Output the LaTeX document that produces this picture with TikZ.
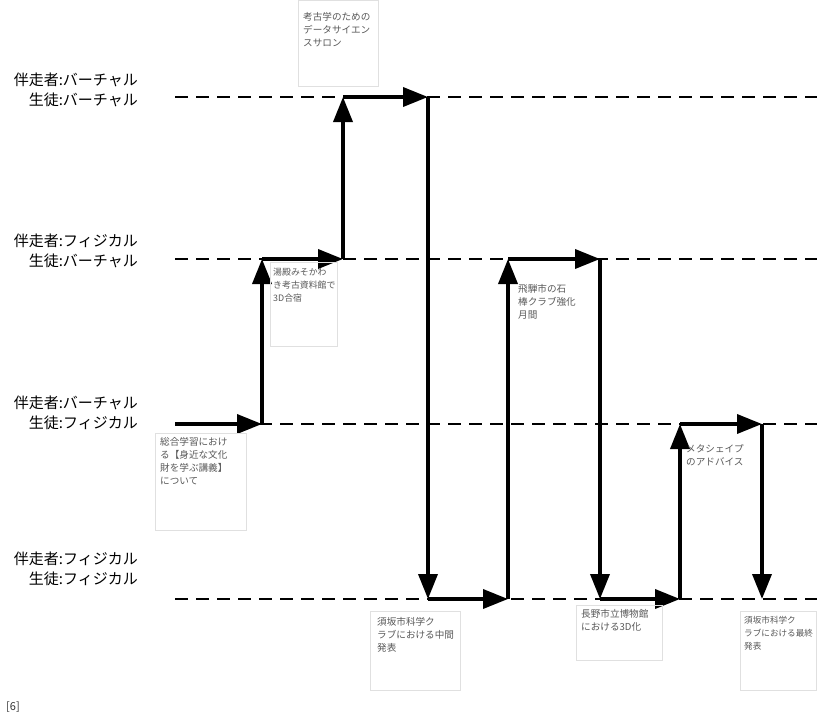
\documentclass[tikz,border=0pt]{standalone}
\usepackage{fontspec}
\setmainfont{Noto Sans CJK JP}
\usetikzlibrary{arrows.meta}
\tikzset{
  level/.style={line width=2.6pt, dash pattern=on 13pt off 8pt},
  flow/.style={line width=3.6pt, -{Triangle[length=25pt,width=19pt]}},
  statelabel/.style={anchor=east, align=right, font=\fontsize{15}{20.5}\selectfont, inner sep=0pt},
  notebox/.style={draw=black!12, line width=0.8pt},
  note/.style={anchor=north west, align=left, text=black!65, inner sep=0pt,
    font=\fontsize{9.6}{13}\selectfont}
}
\begin{document}
\begin{tikzpicture}[x=1pt,y=-1pt]
\useasboundingbox (0,0) rectangle (817,718);
\fill[white] (0,0) rectangle (817,718);

% state levels
\foreach \n/\y in {vv/97, fv/259, vf/424, ff/599}{
  \coordinate (\n-l) at (175,\y);
  \coordinate (\n-r) at (817,\y);
  \draw[level] (\n-l) -- (\n-r);
}
\node[statelabel] (lab-vv) at (138,90) {伴走者:バーチャル\\生徒:バーチャル};
\node[statelabel] (lab-fv) at (138,251) {伴走者:フィジカル\\生徒:バーチャル};
\node[statelabel] (lab-vf) at (138,413) {伴走者:バーチャル\\生徒:フィジカル};
\node[statelabel] (lab-ff) at (138,569) {伴走者:フィジカル\\生徒:フィジカル};

% turning points of the path
\coordinate (p0) at (175,424);
\coordinate (p1) at (262,424);
\coordinate (p2) at (262,259);
\coordinate (p3) at (343,259);
\coordinate (p4) at (343,97);
\coordinate (p5) at (428,97);
\coordinate (p6) at (428,599);
\coordinate (p7) at (508,599);
\coordinate (p8) at (508,259);
\coordinate (p9) at (600,259);
\coordinate (p10) at (600,599);
\coordinate (p11) at (680,599);
\coordinate (p12) at (680,424);
\coordinate (p13) at (762,424);
\coordinate (p14) at (762,599);

\draw[flow] (p0) -- (p1);
\draw[flow] (p1) -- (p2);
\draw[flow] (p2) -- (p3);
\draw[flow] (p3) -- (p4);
\draw[flow] (p4) -- (p5);
\draw[flow] (p5) -- (p6);
\draw[flow] (p6) -- (p7);
\draw[flow] (p7) -- (p8);
\draw[flow] (p8) -- (p9);
\draw[flow] (p9) -- (p10);
\draw[flow] (p10) -- (p11);
\draw[flow] (p11) -- (p12);
\draw[flow] (p12) -- (p13);
\draw[flow] (p13) -- (p14);

% event notes
\draw[notebox] (298,0) rectangle (378,86);
\node[note] (n1) at (303,12) {考古学のための\\データサイエン\\スサロン};

\draw[notebox] (270,262) rectangle (337,346);
\node[note, font=\fontsize{8.9}{13}\selectfont] (n2) at (273,268) {湯殿みそかわ\\き考古資料館で\\3D合宿};

\draw[notebox] (155,433) rectangle (246,530);
\node[note] (n3) at (160,437) {総合学習におけ\\る【身近な文化\\財を学ぶ講義】\\について};

\node[note] (n4) at (518,284) {飛騨市の石\\棒クラブ強化\\月間};

\draw[notebox] (370,611) rectangle (460,690);
\node[note] (n5) at (377,617) {須坂市科学ク\\ラブにおける中間\\発表};

\draw[notebox] (576,605) rectangle (662,660);
\node[note] (n6) at (581,609) {長野市立博物館\\における3D化};

\node[note] (n7) at (686,444) {メタシェイプ\\のアドバイス};

\draw[notebox] (740,611) rectangle (816.5,690);
\node[note, font=\fontsize{8.6}{13}\selectfont] (n8) at (744,616) {須坂市科学ク\\ラブにおける最終\\発表};

\node[anchor=west, inner sep=0pt, font=\fontsize{11}{13}\selectfont, text=black!80] (ref) at (6,707) {[6]};
\end{tikzpicture}
\end{document}
